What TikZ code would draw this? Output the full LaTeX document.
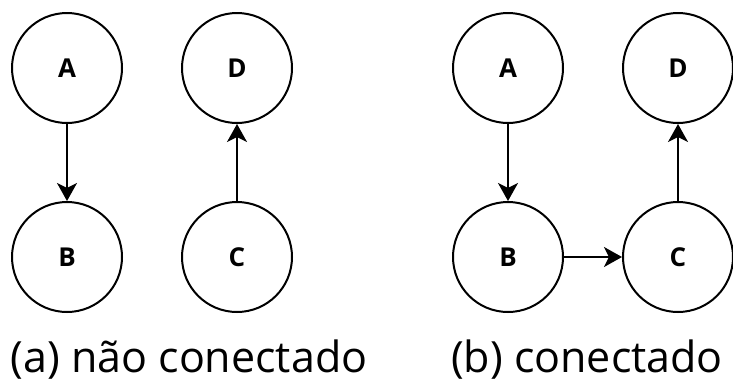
\documentclass[tikz,border=0pt]{standalone}
\usepackage{fontspec}
\setmainfont{Open Sans}
\usetikzlibrary{arrows.meta}
\begin{document}
\begin{tikzpicture}[x=1pt,y=-1pt,line width=2pt,line cap=round,line join=round,>={Stealth[length=18pt,width=20pt,inset=5pt]},
		vert/.style={draw,circle,minimum size=110pt,inner sep=0pt,font=\fontsize{26}{28}\selectfont\bfseries},
		legenda/.style={font=\fontsize{43}{48}\selectfont,anchor=base}]
	\useasboundingbox (0,0) rectangle (733,383);
	% (a) grafo nao conectado
	\node[vert] (a1) at (67,68) {A};
	\node[vert] (b1) at (67,257) {B};
	\node[vert] (d1) at (237,68) {D};
	\node[vert] (c1) at (237,257) {C};
	\draw[->] (a1)--(b1);
	\draw[->] (c1)--(d1);
	\node[legenda] (la) at (189,372) {(a) não conectado};
	% (b) grafo conectado
	\node[vert] (a2) at (508,68) {A};
	\node[vert] (b2) at (508,257) {B};
	\node[vert] (d2) at (678,68) {D};
	\node[vert] (c2) at (678,257) {C};
	\draw[->] (a2)--(b2);
	\draw[->] (b2)--(c2);
	\draw[->] (c2)--(d2);
	\node[legenda] (lb) at (587,372) {(b) conectado};
\end{tikzpicture}
\end{document}
